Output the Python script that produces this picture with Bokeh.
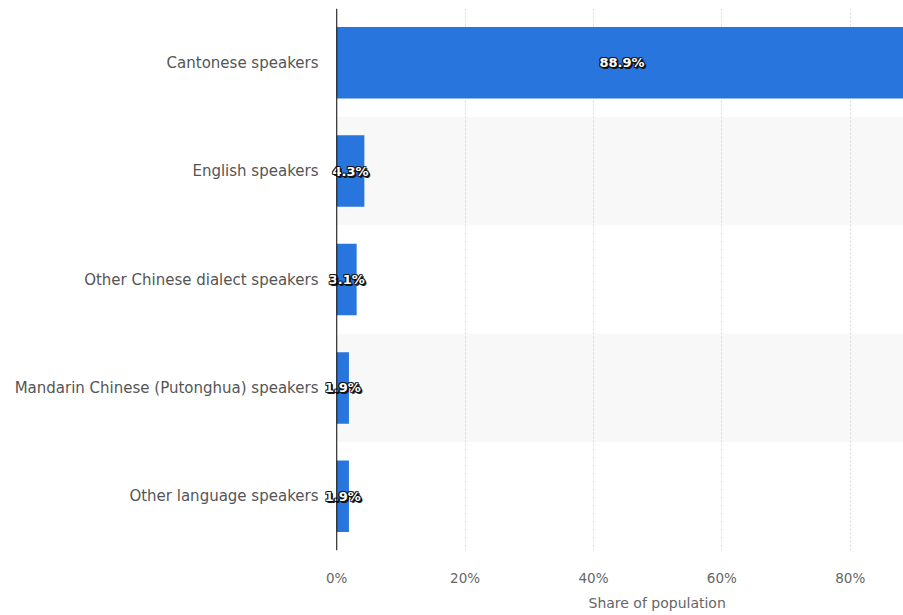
from bokeh.plotting import figure
from bokeh.models import ColumnDataSource, Range1d, FactorRange, FixedTicker, PrintfTickFormatter, Title, Span
from bokeh.core.properties import value
from bokeh.embed import file_html
from bokeh.resources import INLINE

categories = ["Cantonese speakers", "English speakers", "Other Chinese dialect speakers",
              "Mandarin Chinese (Putonghua) speakers", "Other language speakers"]
shares = [88.9, 4.3, 3.1, 1.9, 1.9]
labels = ["88.9%", "4.3%", "3.1%", "1.9%", "1.9%"]
ticks = [0, 20, 40, 60, 80]

# frame starts a little left of 0 so value labels are not clipped
p = figure(width=903, height=615, output_backend="svg", toolbar_location=None,
           y_range=FactorRange(*reversed(categories)), x_range=Range1d(-3, 88.3),
           min_border_left=317, min_border_right=0, min_border_top=8, min_border_bottom=65)
p.outline_line_color = None
p.background_fill_color = "white"
p.border_fill_color = "white"

band_src = ColumnDataSource(dict(cat=[categories[1], categories[3]]))
bands = p.hbar(y="cat", right=200, left=0, height=1.0, source=band_src,
               fill_color="#f8f8f8", line_color=None)
bands.level = "image"

src = ColumnDataSource(dict(cat=categories, val=shares, mid=[v / 2 for v in shares], lab=labels))
p.hbar(y="cat", right="val", left=0, height=0.66, source=src, fill_color="#2876dd", line_color=None)

p.add_layout(Span(location=0, dimension="height", line_color="black", line_width=1))

for dx, dy in [(-1, 0), (1, 0), (0, -1), (0, 1), (-1, -1), (1, 1), (-1, 1), (1, -1), (1, 2), (2, 1), (2, 2)]:
    p.text(x="mid", y="cat", text="lab", source=src, text_align="center", text_baseline="middle",
           text_color="#111111", text_font=value("DejaVu Sans"), text_font_style="bold",
           text_font_size="13px", x_offset=dx, y_offset=dy, text_alpha=0.8)
p.text(x="mid", y="cat", text="lab", source=src, text_align="center", text_baseline="middle",
       text_color="white", text_font=value("DejaVu Sans"), text_font_style="bold",
       text_font_size="13px")

p.ygrid.grid_line_color = None
p.xgrid.ticker = FixedTicker(ticks=ticks[1:])
p.xgrid.grid_line_color = "#d8d8d8"
p.xgrid.grid_line_dash = "2 2"

p.xaxis.ticker = FixedTicker(ticks=ticks)
p.xaxis.formatter = PrintfTickFormatter(format="%d%%")
p.xaxis.axis_line_color = None
p.xaxis.major_tick_line_color = None
p.xaxis.minor_tick_line_color = None
p.xaxis.major_label_text_color = "#666666"
p.xaxis.major_label_text_font = "DejaVu Sans"
p.xaxis.major_label_text_font_size = "13.5px"
p.xaxis.major_label_standoff = 13

p.yaxis.axis_line_color = None
p.yaxis.major_tick_line_color = None
p.yaxis.minor_tick_line_color = None
p.yaxis.major_label_text_color = "#555555"
p.yaxis.major_label_text_font = "DejaVu Sans"
p.yaxis.major_label_text_font_size = "15px"
p.yaxis.major_label_standoff = -7

t = Title(text="Share of population", align="left", offset=271, text_color="#666666",
          text_font="DejaVu Sans", text_font_size="14px", text_font_style="normal", standoff=8)
p.add_layout(t, "below")

open("out.html", "w").write(file_html(p, INLINE))
